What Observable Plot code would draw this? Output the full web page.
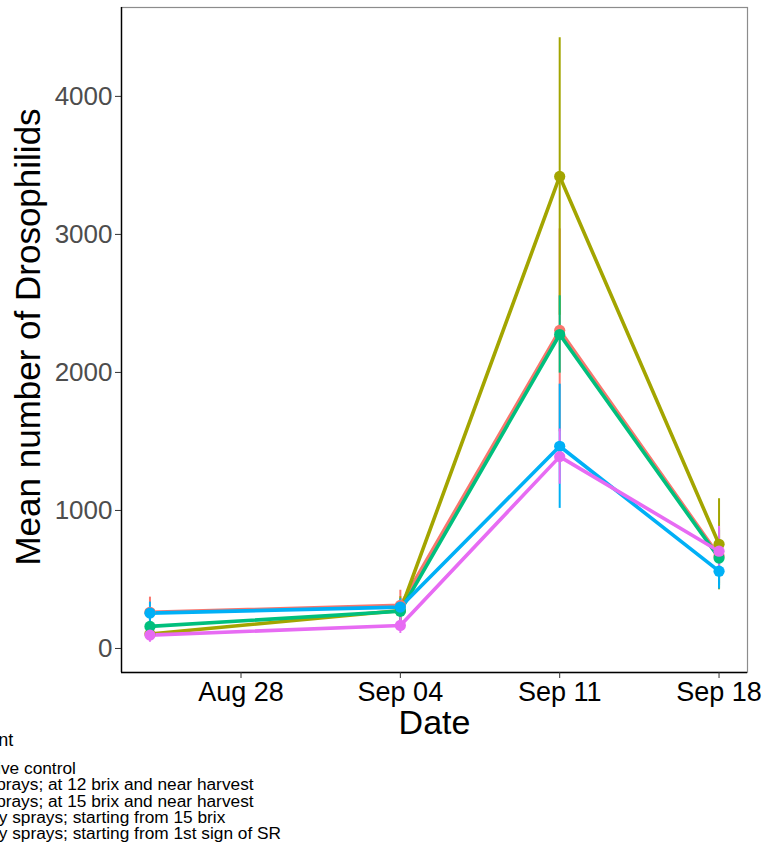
<!DOCTYPE html>
<html>
<head>
<meta charset="utf-8">
<script src="https://cdn.jsdelivr.net/npm/d3@7"></script>
<script src="https://cdn.jsdelivr.net/npm/@observablehq/plot@0.6"></script>
<style>
  html, body { margin: 0; padding: 0; background: #fff; }
  body { width: 763px; height: 848px; overflow: hidden; position: relative;
         font-family: "Liberation Sans", Arial, sans-serif; }
  #chart svg { display: block; font-family: "Liberation Sans", Arial, sans-serif; }
  #legend { position: absolute; top: 730px; left: -65px; color: #000; }
  #legend .title { font-size: 18px; line-height: 21px; margin-left: -3px; }
  #legend .items { margin-top: 9px; }
  #legend .row { display: flex; align-items: center; height: 16.3px; font-size: 17.3px; line-height: 16.3px; white-space: nowrap; }
  #legend .key { width: 13px; height: 4px; margin-right: 3px; }
</style>
</head>
<body>
<div id="chart"></div>
<div id="legend"></div>
<script>
// ---- data ----
const dates = ["2019-08-24", "2019-09-04", "2019-09-11", "2019-09-18"];
const tickDates = ["2019-08-28", "2019-09-04", "2019-09-11", "2019-09-18"];
const treatments = [
  "Negative control",
  "Two sprays; at 12 brix and near harvest",
  "Two sprays; at 15 brix and near harvest",
  "Weekly sprays; starting from 15 brix",
  "Weekly sprays; starting from 1st sign of SR"
];
const colors = ["#F8766D", "#A3A500", "#00BF7D", "#00B0F6", "#E76BF3"];

const meanNegative  = [262, 312, 2305, 670];
const meanTwo12     = [105, 275, 3420, 755];
const meanTwo15     = [160, 270, 2275, 655];
const meanWeekly15  = [256, 300, 1465, 560];
const meanWeeklySR  = [97, 167, 1390, 705];

const errNegative   = [110, 110, 735, 200];
const errTwo12      = [50, 100, 1005, 330];
const errTwo15      = [60, 70, 280, 200];
const errWeekly15   = [80, 60, 450, 130];
const errWeeklySR   = [52, 58, 200, 180];

const yTicks = [0, 1000, 2000, 3000, 4000];
const xLabel = "Date";
const yLabel = "Mean number of Drosophilids";
const legendTitle = "Treatment";

// ---- build table ----
const means = [meanNegative, meanTwo12, meanTwo15, meanWeekly15, meanWeeklySR];
const errs  = [errNegative, errTwo12, errTwo15, errWeekly15, errWeeklySR];
const rows = [];
treatments.forEach((t, i) => {
  dates.forEach((d, j) => {
    rows.push({treatment: t, date: new Date(d), mean: means[i][j],
               lo: means[i][j] - errs[i][j], hi: means[i][j] + errs[i][j]});
  });
});

// ggplot-like 5% expansion
const dExt = d3.extent(rows, r => +r.date);
const dPad = (dExt[1] - dExt[0]) * 0.05;
const xDomain = [new Date(dExt[0] - dPad), new Date(dExt[1] + dPad)];
const yMin = d3.min(rows, r => r.lo), yMax = d3.max(rows, r => r.hi);
const yPad = (yMax - yMin) * 0.05;
const yDomain = [yMin - yPad, yMax + yPad];

const plot = Plot.plot({
  width: 763,
  height: 748,
  marginLeft: 121,
  marginRight: 16,
  marginTop: 7,
  marginBottom: 76,
  x: {type: "utc", domain: xDomain},
  y: {domain: yDomain},
  color: {domain: treatments, range: colors},
  marks: [
    Plot.frame({stroke: "#8c8c8c", strokeWidth: 1.2}),
    Plot.ruleX(rows, {x: "date", y1: "lo", y2: "hi", stroke: "treatment", strokeWidth: 2}),
    Plot.line(rows, {x: "date", y: "mean", stroke: "treatment", z: "treatment", strokeWidth: 3.6}),
    Plot.dot(rows, {x: "date", y: "mean", fill: "treatment", r: 5.6}),
    Plot.ruleY([yDomain[0]], {stroke: "#000", strokeWidth: 1.4}),
    Plot.ruleX([xDomain[0]], {stroke: "#000", strokeWidth: 1.4}),
    Plot.axisY({ticks: yTicks, tickSize: 6, tickPadding: 3, stroke: "#333", fill: "#4D4D4D",
                fontSize: 26, label: null, tickFormat: d => String(d)}),
    Plot.axisX({ticks: tickDates.map(d => new Date(d)), tickSize: 6, tickPadding: 3,
                stroke: "#333", fill: "#000", fontSize: 27, label: null,
                tickFormat: d3.utcFormat("%b %d")}),
    Plot.text([yLabel], {text: d => d, frameAnchor: "left", dx: -93, dy: -3, rotate: -90,
                textAnchor: "middle", fontSize: 35, fill: "#000", lineAnchor: "middle"}),
    Plot.text([xLabel], {text: d => d, frameAnchor: "bottom", dy: 51,
                textAnchor: "middle", fontSize: 34, fill: "#000", lineAnchor: "middle"})
  ]
});
document.getElementById("chart").appendChild(plot);

// ---- legend ----
const legend = document.getElementById("legend");
const title = document.createElement("div");
title.className = "title";
title.textContent = legendTitle;
legend.appendChild(title);
const items = document.createElement("div");
items.className = "items";
treatments.forEach((t, i) => {
  const row = document.createElement("div");
  row.className = "row";
  const key = document.createElement("span");
  key.className = "key";
  key.style.background = colors[i];
  const lab = document.createElement("span");
  lab.textContent = t;
  row.appendChild(key);
  row.appendChild(lab);
  items.appendChild(row);
});
legend.appendChild(items);
</script>
</body>
</html>
